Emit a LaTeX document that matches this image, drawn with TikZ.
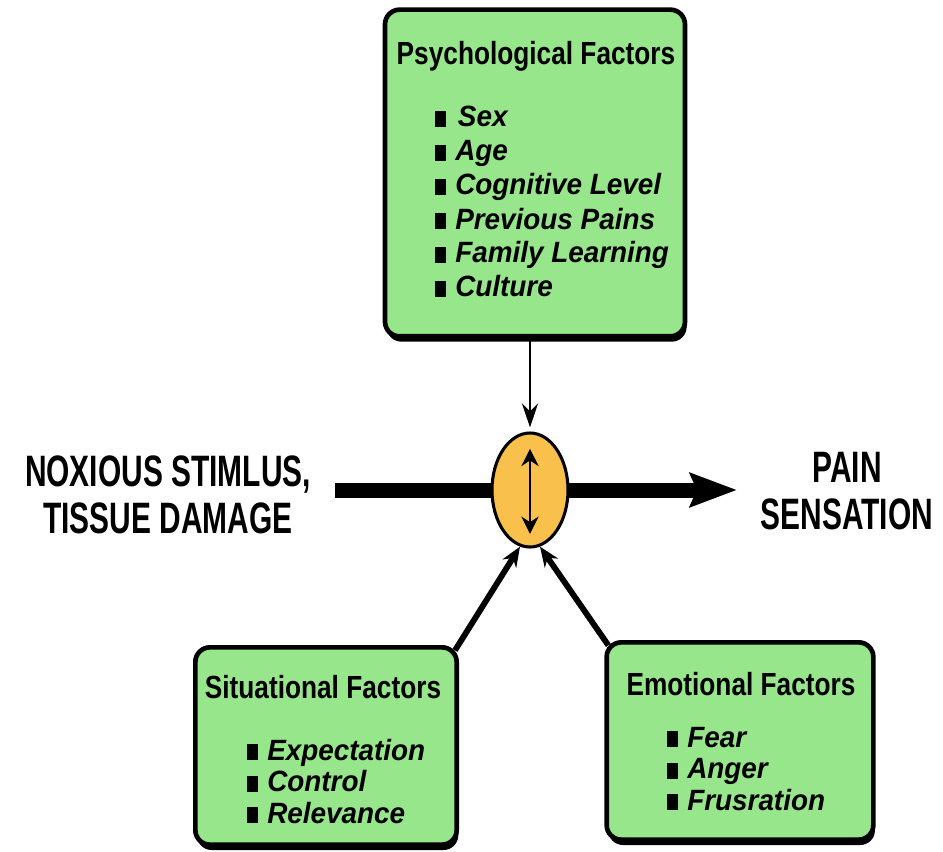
\documentclass[tikz,border=0pt]{standalone}
\usepackage{fontspec}
\setmainfont{Liberation Sans}
\newfontfamily\headfont{Liberation Sans}[FakeStretch=0.82]
\newfontfamily\listfont{Liberation Sans}[FakeStretch=0.95]
\newfontfamily\bigfont{Liberation Sans}[FakeStretch=0.68]
\usetikzlibrary{arrows.meta,positioning,shapes.geometric,shadows}
\definecolor{boxgreen}{HTML}{98E68B}
\definecolor{hubamber}{HTML}{F9C04B}
\newcommand{\blk}{\rule{8pt}{12pt}\hspace{7pt}}
\tikzset{
  factorbox/.style={draw=black, line width=3.5pt, rounded corners=11pt, fill=boxgreen,
    drop shadow={shadow xshift=1.2pt, shadow yshift=-4pt, opacity=1, fill=black}},
  hub/.style={ellipse, draw=black, line width=2.3pt, fill=hubamber, minimum width=57pt, minimum height=85.5pt, inner sep=0pt},
  boxtitle/.style={font=\headfont\bfseries\fontsize{24}{28}\selectfont, inner sep=0pt, anchor=base},
  itemlist/.style={font=\listfont\bfseries\itshape\fontsize{22}{#1}\selectfont, align=left, inner sep=0pt, anchor=base west},
  itemlist/.default=23.5pt,
  bigtext/.style={font=\bigfont\bfseries\fontsize{33}{35}\selectfont, align=center, inner sep=0pt},
  mainarrow/.style={-{Stealth[length=35pt, width=25pt, inset=5pt]}, line width=11.25pt},
  feedarrow/.style={-{Stealth[length=15pt, width=12pt]}, line width=4.4pt},
  droparrow/.style={-{Stealth[length=18pt, width=12pt]}, line width=2.2pt},
  swing/.style={{Stealth[length=13pt, width=13pt]}-{Stealth[length=13pt, width=13pt]}, line width=1.3pt}
}

\begin{document}
\begin{tikzpicture}[x=0.75pt, y=-0.75pt]
  \useasboundingbox (0,0) rectangle (943,852);

  % factor boxes
  \node[factorbox, minimum width=225pt, minimum height=245pt] (psych) at (535,173) {};
  \node[factorbox, minimum width=196pt, minimum height=148pt] (situ) at (326,746) {};
  \node[factorbox, minimum width=200pt, minimum height=148pt] (emo) at (740,741) {};

  \node[boxtitle] (psychtitle) at (536,65) {Psychological Factors};
  \node[itemlist=25.5pt] (psychlist) at (435,297) {\blk\hspace{2pt}Sex\\ \blk Age\\ \blk Cognitive Level\\ \blk Previous Pains\\ \blk Family Learning\\ \blk Culture};

  \node[boxtitle] (situtitle) at (323,698) {Situational Factors};
  \node[itemlist] (situlist) at (247,823) {\blk Expectation\\ \blk Control\\ \blk Relevance};

  \node[boxtitle] (emotitle) at (741,695) {Emotional Factors};
  \node[itemlist] (emolist) at (667,810) {\blk Fear\\ \blk Anger\\ \blk Frusration};

  % stimulus to sensation
  \coordinate (stimulus) at (335,490);
  \coordinate (sensation) at (737,490);
  \draw[mainarrow] (stimulus) -- (sensation);
  \node[hub] (hub) at (530,490) {};
  \draw[swing, shorten <=13pt, shorten >=11pt] (hub.north) -- (hub.south);

  \draw[droparrow, shorten >=3pt] (psych.south -| hub.north) -- (hub.north);
  \draw[feedarrow] ([xshift=-3pt,yshift=-4pt]situ.north east) -- (hub.-100);
  \draw[feedarrow] ([xshift=3pt,yshift=-4pt]emo.north west) -- (hub.-80);

  \node[bigtext] (noxious) at (168,495) {NOXIOUS STIMLUS,\\TISSUE DAMAGE};
  \node[bigtext] (pain) at (847,491) {PAIN\\SENSATION};
\end{tikzpicture}
\end{document}
